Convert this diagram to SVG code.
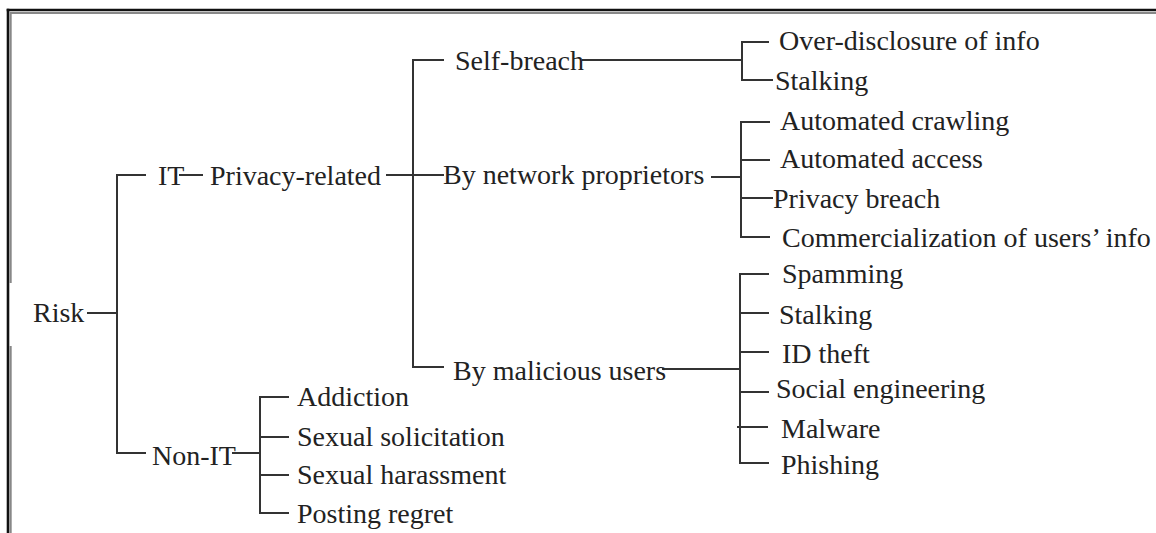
<svg xmlns="http://www.w3.org/2000/svg" width="1156" height="533" viewBox="0 0 1156 533">
<style>
text{font-family:"Liberation Serif","Times New Roman",serif;font-size:28px;fill:#222}
.c line{stroke:#333;stroke-width:2;stroke-linecap:square}
.k{stroke:#111;stroke-width:2.6;fill:none}
.g{stroke:#888;stroke-width:2;fill:none}
</style>
<rect width="1156" height="533" fill="#fff"/>
<g id="border">
<line class="g" x1="10.7" y1="13" x2="1156" y2="13"/>
<line class="g" x1="10.7" y1="12" x2="10.7" y2="283"/>
<line class="g" x1="10.7" y1="346" x2="10.7" y2="533"/>
<line class="k" x1="6.7" y1="10" x2="1156" y2="10"/>
<line class="k" x1="8" y1="8.7" x2="8" y2="533"/>
</g>
<g class="c" id="connectors">
<line x1="88" y1="313" x2="117" y2="313"/>
<line x1="117" y1="175" x2="117" y2="453"/>
<line x1="117" y1="175" x2="145" y2="175"/>
<line x1="117" y1="453" x2="145" y2="453"/>
<line x1="180" y1="175" x2="202" y2="175"/>
<line x1="387" y1="175" x2="443" y2="175"/>
<line x1="413" y1="60" x2="413" y2="367"/>
<line x1="413" y1="60" x2="443" y2="60"/>
<line x1="413" y1="367" x2="443" y2="367"/>
<line x1="583" y1="60" x2="742" y2="60"/>
<line x1="742" y1="42" x2="742" y2="80"/>
<line x1="742" y1="42" x2="768" y2="42"/>
<line x1="742" y1="80" x2="772" y2="80"/>
<line x1="712" y1="177" x2="741" y2="177"/>
<line x1="741" y1="122" x2="741" y2="237"/>
<line x1="741" y1="122" x2="769" y2="122"/>
<line x1="741" y1="160" x2="769" y2="160"/>
<line x1="741" y1="198" x2="772" y2="198"/>
<line x1="741" y1="237" x2="769" y2="237"/>
<line x1="663" y1="369" x2="740" y2="369"/>
<line x1="740" y1="274" x2="740" y2="463"/>
<line x1="740" y1="274" x2="768" y2="274"/>
<line x1="740" y1="313" x2="768" y2="313"/>
<line x1="740" y1="352" x2="768" y2="352"/>
<line x1="740" y1="392" x2="768" y2="392"/>
<line x1="738" y1="427" x2="767" y2="427"/>
<line x1="740" y1="463" x2="768" y2="463"/>
<line x1="233" y1="453" x2="260" y2="453"/>
<line x1="260" y1="397" x2="260" y2="513"/>
<line x1="260" y1="397" x2="288" y2="397"/>
<line x1="260" y1="437" x2="288" y2="437"/>
<line x1="260" y1="475" x2="288" y2="475"/>
<line x1="260" y1="513" x2="288" y2="513"/>
</g>
<g id="n-risk"><text x="33" y="322">Risk</text></g>
<g id="n-it"><text x="158" y="185">IT</text></g>
<g id="n-privacy"><text x="210" y="185">Privacy-related</text></g>
<g id="n-nonit"><text x="152" y="465">Non-IT</text></g>
<g id="n-addiction"><text x="297" y="406">Addiction</text></g>
<g id="n-solicitation"><text x="297" y="446">Sexual solicitation</text></g>
<g id="n-harassment"><text x="297" y="484">Sexual harassment</text></g>
<g id="n-regret"><text x="297" y="523">Posting regret</text></g>
<g id="n-selfbreach"><text x="455" y="70">Self-breach</text></g>
<g id="n-netprop"><text x="443" y="184">By network proprietors</text></g>
<g id="n-malicious"><text x="453" y="380">By malicious users</text></g>
<g id="n-overdisclosure"><text x="779" y="50">Over-disclosure of info</text></g>
<g id="n-stalking1"><text x="775" y="90">Stalking</text></g>
<g id="n-crawling"><text x="780" y="130">Automated crawling</text></g>
<g id="n-access"><text x="780" y="168">Automated access</text></g>
<g id="n-privbreach"><text x="773" y="208">Privacy breach</text></g>
<g id="n-commercial"><text x="782" y="247">Commercialization of users’ info</text></g>
<g id="n-spamming"><text x="782" y="283">Spamming</text></g>
<g id="n-stalking2"><text x="779" y="324">Stalking</text></g>
<g id="n-idtheft"><text x="782" y="363">ID theft</text></g>
<g id="n-social"><text x="776" y="398">Social engineering</text></g>
<g id="n-malware"><text x="781" y="438">Malware</text></g>
<g id="n-phishing"><text x="781" y="474">Phishing</text></g>
</svg>
